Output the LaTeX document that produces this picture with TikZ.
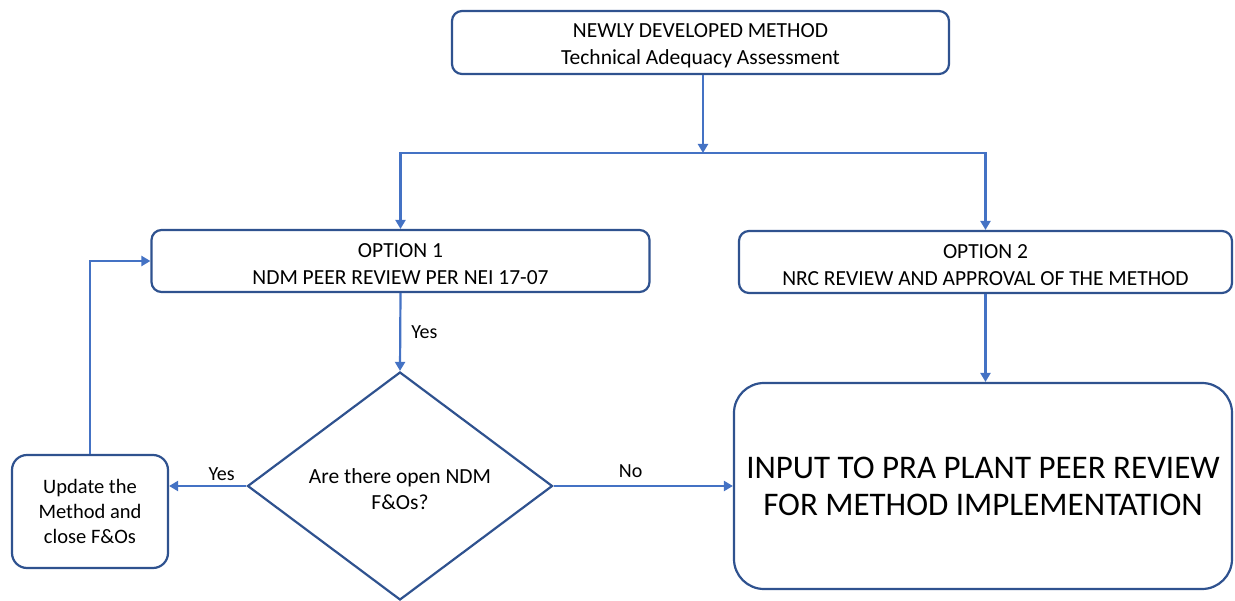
\documentclass[tikz,border=0pt]{standalone}
\usepackage{fontspec}
\setmainfont{Carlito}
\usetikzlibrary{shapes.geometric,arrows.meta}
\definecolor{boxline}{HTML}{2F528F}
\definecolor{arrowline}{HTML}{4472C4}

\begin{document}
\begin{tikzpicture}[x=1pt,y=-1pt,
  box/.style={draw=boxline, line width=2.2pt, rounded corners=10pt, inner sep=0pt,
              align=center, font=\fontsize{21.5}{26.5}\selectfont},
  flow/.style={draw=arrowline, line width=2.2pt, -{Triangle[width=10pt,length=9pt]}},
  lbl/.style={font=\fontsize{20}{22}\selectfont, inner sep=0pt}
]
\useasboundingbox (0,0) rectangle (1235,601);

% process boxes
\node[box, minimum width=497pt, minimum height=63pt] (top) at (700.5,42.5)
  {\rule{0pt}{20pt}NEWLY DEVELOPED METHOD\\Technical Adequacy Assessment};
\node[box, minimum width=498pt, minimum height=62pt] (opt1) at (400.5,261)
  {\rule{0pt}{20pt}OPTION 1\\NDM PEER REVIEW PER NEI 17-07};
\node[box, minimum width=493pt, minimum height=62pt] (opt2) at (985.5,262)
  {\rule{0pt}{20pt}OPTION 2\\NRC REVIEW AND APPROVAL OF THE METHOD};
\node[box, rounded corners=30pt, minimum width=498pt, minimum height=206pt,
      font=\fontsize{33}{37}\selectfont] (big) at (983,486)
  {INPUT TO PRA PLANT PEER REVIEW\\FOR METHOD IMPLEMENTATION};
\node[box, rounded corners=15pt, minimum width=156pt, minimum height=113pt,
      font=\fontsize{20.5}{25}\selectfont] (upd) at (90,511.5)
  {Update the\\Method and\\close F\&Os};

% decision
\node[diamond, draw=boxline, line width=2.2pt, aspect=1.34, inner sep=0pt,
      minimum width=305pt, minimum height=228pt, align=center,
      font=\fontsize{21.5}{25.5}\selectfont] (dia) at (400,486)
  {\rule{0pt}{21pt}Are there open NDM\\F\&Os?};

% connectors
\coordinate (split) at (703,153);
\draw[flow] (split |- top.south) -- (split);
\draw[flow] (split) -| (opt1.north);
\draw[flow] (split) -| (opt2.north);
\draw[flow] (opt1.south) -- node[lbl, right=10pt] {Yes} (dia.north);
\draw[flow] (opt2.south) -- (opt2.south |- big.north);
\draw[flow] (dia.east) -- node[lbl, above=7pt, pos=0.43] {No} (big.west);
\draw[flow] (dia.west) -- node[lbl, above=4pt, pos=0.32] {Yes} (dia.west -| upd.east);
\draw[flow] (upd.north) |- (opt1.west);
\end{tikzpicture}
\end{document}
